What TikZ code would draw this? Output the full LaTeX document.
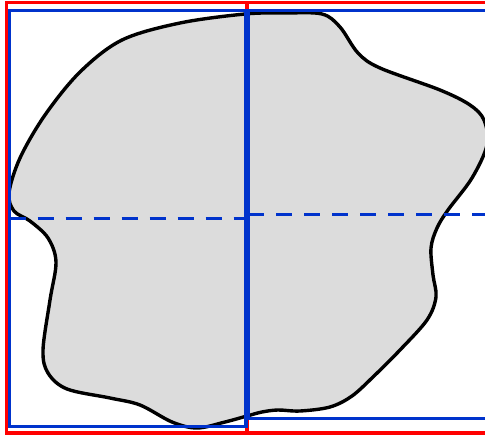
\documentclass[tikz,border=0pt]{standalone}
\definecolor{bblue}{RGB}{0,51,204}
\definecolor{rred}{RGB}{255,0,0}
\definecolor{blobgray}{RGB}{220,220,220}
\begin{document}
\begin{tikzpicture}[x=1pt,y=-1pt,
  redline/.style={draw=rred,line width=3.4pt},
  blueline/.style={draw=bblue,line width=3.4pt},
  dashline/.style={blueline,dash pattern=on 16pt off 12pt},
  blob/.style={fill=blobgray,draw=black,line width=3.4pt}]
\useasboundingbox (0,0) rectangle (485,436);
\begin{scope}
\clip (0,0) rectangle (485,436);
\draw[blob] plot[smooth cycle, tension=0.55] coordinates {
 (245,14) (180,23) (122,40) (80,72) (45,115) (20,158) (9,193) (14,211) (30,221)
 (48,238) (56,262) (50,300) (43,350) (48,373) (67,389) (110,398) (140,405) (172,422) (197,428) (225,422)
 (247,416) (262,412) (278,410) (300,411) (330,407) (352,396) (374,376) (400,350) (427,320) (436,297)
 (433,275) (431,248) (437,228) (448,210) (472,178) (487,145) (484,120) (470,105) (440,90) (380,68)
 (358,53) (340,27) (322,14) (285,13)};
\draw[redline] (495,2.7) -- (6.5,2.7) -- (6.5,433) -- (495,433);
\draw[redline] (247,2.7) -- (247,433);
\draw[blueline] (246,10.8) rectangle (9.5,426.5);
\draw[blueline] (495,10.8) -- (248,10.8) -- (248,418.7) -- (495,418.7);
\draw[dashline] (9.5,218.3) -- (246,218.3);
\draw[dashline] (248,214.5) -- (495,214.5);
\end{scope}
\end{tikzpicture}
\end{document}
